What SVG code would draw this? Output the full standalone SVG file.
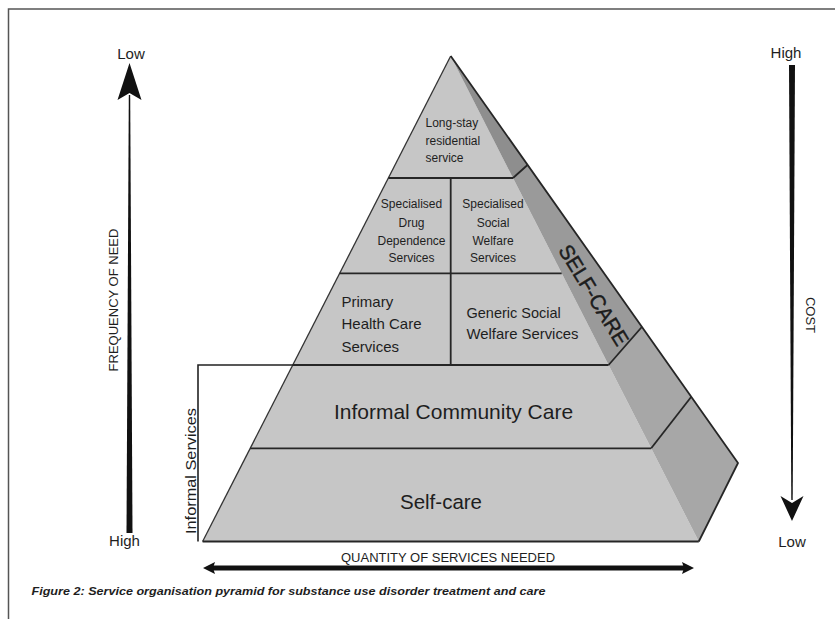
<svg xmlns="http://www.w3.org/2000/svg" width="835" height="619" viewBox="0 0 835 619">
  <style>
    .lbl { font-family: "Liberation Sans", Arial, sans-serif; fill: #1e1e1e; }
    .front { fill: #c6c6c6; }
    .side { fill: #a7a7a7; }
    .band { fill: #9a9a9a; }
    .cap { fill: #8e8e8e; }
    .edge { fill: none; stroke: #262626; stroke-width: 1.8; stroke-linejoin: round; }
    .thin { fill: none; stroke: #333; stroke-width: 1.3; }
    .ink { fill: #111; }
  </style>

  <rect width="835" height="619" fill="#ffffff"/>

  <!-- frame -->
  <g id="frame" fill="none" stroke="#555" stroke-width="1.5">
    <polyline points="8.5,619 8.5,9 835,9"/>
  </g>

  <!-- front face tiers -->
  <g id="tier-long-stay">
    <polygon class="front" points="450.7,56 513,178 388.4,178"/>
    <text class="lbl" font-size="12" x="425.5" y="127">Long-stay</text>
    <text class="lbl" font-size="12" x="425.5" y="144.5">residential</text>
    <text class="lbl" font-size="12" x="425.5" y="162">service</text>
  </g>

  <g id="tier-specialised-drug">
    <polygon class="front" points="388.4,178 450.7,178 450.7,273.3 339.7,273.3"/>
    <text class="lbl" font-size="12" text-anchor="middle" x="411.5" y="208">Specialised</text>
    <text class="lbl" font-size="12" text-anchor="middle" x="411.5" y="226.5">Drug</text>
    <text class="lbl" font-size="12" text-anchor="middle" x="411.5" y="244.5">Dependence</text>
    <text class="lbl" font-size="12" text-anchor="middle" x="411.5" y="262">Services</text>
  </g>

  <g id="tier-specialised-social">
    <polygon class="front" points="450.7,178 513,178 561.7,273.3 450.7,273.3"/>
    <text class="lbl" font-size="12" text-anchor="middle" x="493" y="208">Specialised</text>
    <text class="lbl" font-size="12" text-anchor="middle" x="493" y="226.5">Social</text>
    <text class="lbl" font-size="12" text-anchor="middle" x="493" y="244.5">Welfare</text>
    <text class="lbl" font-size="12" text-anchor="middle" x="493" y="262">Services</text>
  </g>

  <g id="tier-primary-health">
    <polygon class="front" points="339.7,273.3 450.7,273.3 450.7,365 292.8,365"/>
    <text class="lbl" font-size="15" x="341.5" y="306.5">Primary</text>
    <text class="lbl" font-size="15" x="341.5" y="329">Health Care</text>
    <text class="lbl" font-size="15" x="341.5" y="351.5">Services</text>
  </g>

  <g id="tier-generic-social">
    <polygon class="front" points="450.7,273.3 561.7,273.3 608.6,365 450.7,365"/>
    <text class="lbl" font-size="14.5" x="466.5" y="317.5">Generic Social</text>
    <text class="lbl" font-size="14.5" x="466.5" y="338.5" textLength="112" lengthAdjust="spacingAndGlyphs">Welfare Services</text>
  </g>

  <g id="tier-informal-community">
    <polygon class="front" points="292.8,365 608.6,365 651.2,448.3 250.2,448.3"/>
    <text class="lbl" font-size="21" text-anchor="middle" x="453.5" y="418.5">Informal Community Care</text>
  </g>

  <g id="tier-self-care">
    <polygon class="front" points="250.2,448.3 651.2,448.3 698.8,541.5 202.6,541.5"/>
    <text class="lbl" font-size="20.5" text-anchor="middle" x="441" y="508.5">Self-care</text>
  </g>

  <!-- side face -->
  <g id="side-self-care">
    <polygon class="cap" points="450.7,56 527.5,165 513,178"/>
    <polygon class="band" points="513,178 527.5,165 641.8,327 608.6,365"/>
    <polygon class="side" points="608.6,365 641.8,327 691.1,397 651.2,448.3"/>
    <polygon class="side" points="651.2,448.3 691.1,397 738,463 698.8,541.5"/>
    <text class="lbl" font-size="21" text-anchor="middle" transform="translate(594,295) rotate(58.5)" y="7.5" textLength="114" lengthAdjust="spacingAndGlyphs" fill="#111" stroke="#111" stroke-width="0.4">SELF-CARE</text>
  </g>

  <!-- outlines -->
  <g id="outlines">
    <line class="thin" x1="450.7" y1="56" x2="202.6" y2="541.5"/>
    <polyline class="edge" points="450.7,56 738,463 698.8,541.5"/>
    <line class="edge" x1="202.6" y1="541.5" x2="698.8" y2="541.5"/>
    <line class="edge" x1="388.4" y1="178" x2="513" y2="178"/>
    <line class="edge" x1="339.7" y1="273.3" x2="561.7" y2="273.3"/>
    <line class="edge" x1="292.8" y1="365" x2="608.6" y2="365"/>
    <line class="edge" x1="250.2" y1="448.3" x2="651.2" y2="448.3"/>
    <line class="edge" x1="450.7" y1="178" x2="450.7" y2="365"/>
    <line class="edge" x1="513" y1="178" x2="527.5" y2="165"/>
    <line class="edge" x1="608.6" y1="365" x2="641.8" y2="327"/>
    <line class="edge" x1="651.2" y1="448.3" x2="691.1" y2="397"/>
  </g>

  <!-- arrows and bracket -->
  <g id="connectors">
    <!-- frequency of need -->
    <polygon class="ink" points="126.5,533 132.5,533 130.2,95 128.8,95"/>
    <path class="ink" d="M129.5,63 L141.5,100 L129.5,93 L117.5,100 Z"/>
    <!-- cost -->
    <polygon class="ink" points="789,65 795,65 792.7,500 791.3,500"/>
    <path class="ink" d="M792,521 L803.5,496 L792,503 L780.5,496 Z"/>
    <!-- quantity of services -->
    <rect class="ink" x="212" y="565.5" width="474" height="5"/>
    <path class="ink" d="M203,568 L215,562 L213,568 L215,574 Z"/>
    <path class="ink" d="M694,568 L682,562 L684,568 L682,574 Z"/>
    <!-- informal services bracket -->
    <polyline fill="none" stroke="#222" stroke-width="1.6" points="198,541.5 198,365 293,365"/>
  </g>

  <!-- axis labels -->
  <g id="axis-labels">
    <text class="lbl" font-size="15" text-anchor="middle" x="131" y="59">Low</text>
    <text class="lbl" font-size="15" text-anchor="middle" x="124.5" y="546">High</text>
    <text class="lbl" font-size="13" text-anchor="middle" transform="translate(117.5,300) rotate(-90)">FREQUENCY OF NEED</text>
    <text class="lbl" font-size="15" text-anchor="middle" x="786" y="58">High</text>
    <text class="lbl" font-size="15" text-anchor="middle" x="792" y="547">Low</text>
    <text class="lbl" font-size="13" text-anchor="middle" transform="translate(805.5,315) rotate(90)">COST</text>
    <text class="lbl" font-size="14" text-anchor="middle" transform="translate(196,471) rotate(-90)" textLength="126" lengthAdjust="spacingAndGlyphs">Informal Services</text>
    <text class="lbl" font-size="13" text-anchor="middle" x="448" y="561.5">QUANTITY OF SERVICES NEEDED</text>
  </g>

  <g id="caption">
    <text class="lbl" font-size="11.5" font-weight="bold" font-style="italic" x="31.5" y="595" textLength="514" lengthAdjust="spacingAndGlyphs">Figure 2: Service organisation pyramid for substance use disorder treatment and care</text>
  </g>
</svg>
